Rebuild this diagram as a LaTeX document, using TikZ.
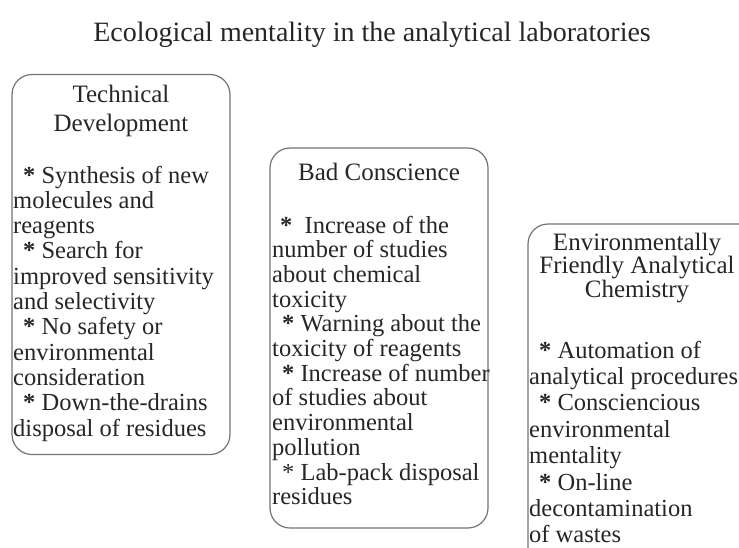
\documentclass[tikz,border=0pt]{standalone}
\usepackage{fontspec}
\setmainfont{Liberation Serif}
\usetikzlibrary{positioning}

\newcommand{\itemstar}{\hspace*{10pt}\textbf{*}\ }

\begin{document}
\begin{tikzpicture}[
                x=1pt, y=-1pt,
                box/.style={rectangle, draw=black!55, line width=1.2pt, rounded corners=20pt, minimum width=218pt, minimum height=380pt},
                head/.style={align=center, inner sep=0pt, anchor=base, text=black!85},
                body/.style={align=left, inner sep=0pt, anchor=base west, text=black!85, font=\fontsize{24.5}{25.3}\selectfont}
            ]
                \clip (0,0) rectangle (739,547);
                \useasboundingbox (0,0) rectangle (739,547);

                % anchors sit on the last text line
                \node[head, font=\fontsize{28}{30}\selectfont] (title) at (372,41) {Ecological mentality in the analytical laboratories};

                \node[box] (tech) at (121,264.5) {};
                \node[box] (bad) at (379,338) {};
                \node[box, minimum width=240pt] (green) at (648,414) {};

                \node[head, font=\fontsize{25}{29.5}\selectfont] (techhead) at (121,131.5) {Technical\\Development};
                \node[head, font=\fontsize{25}{29.5}\selectfont] (badhead) at (379,180) {Bad Conscience};
                \node[head, font=\fontsize{25}{23.5}\selectfont] (greenhead) at (637,297) {Environmentally\\Friendly Analytical\\Chemistry};

                \node[body] (techtext) at (13,436) {\itemstar Synthesis of new\\molecules and\\reagents\\\itemstar Search for\\improved sensitivity\\and selectivity\\\itemstar No safety or\\environmental\\consideration\\\itemstar Down-the-drains\\disposal of residues};
                \node[body, font=\fontsize{24.5}{24.7}\selectfont] (badtext) at (272,504.7) {\hspace*{-2pt}\itemstar\ Increase of the\\number of studies\\about chemical\\toxicity\\\itemstar Warning about the\\toxicity of reagents\\\itemstar Increase of number\\of studies about\\environmental\\pollution\\\hspace*{10pt}* Lab-pack disposal\\residues};
                \node[body, font=\fontsize{24.5}{26.4}\selectfont] (greentext) at (529,542.8) {\itemstar Automation of\\analytical procedures\\\itemstar Consciencious\\environmental\\mentality\\\itemstar On-line\\decontamination\\of wastes};
            \end{tikzpicture}
\end{document}
